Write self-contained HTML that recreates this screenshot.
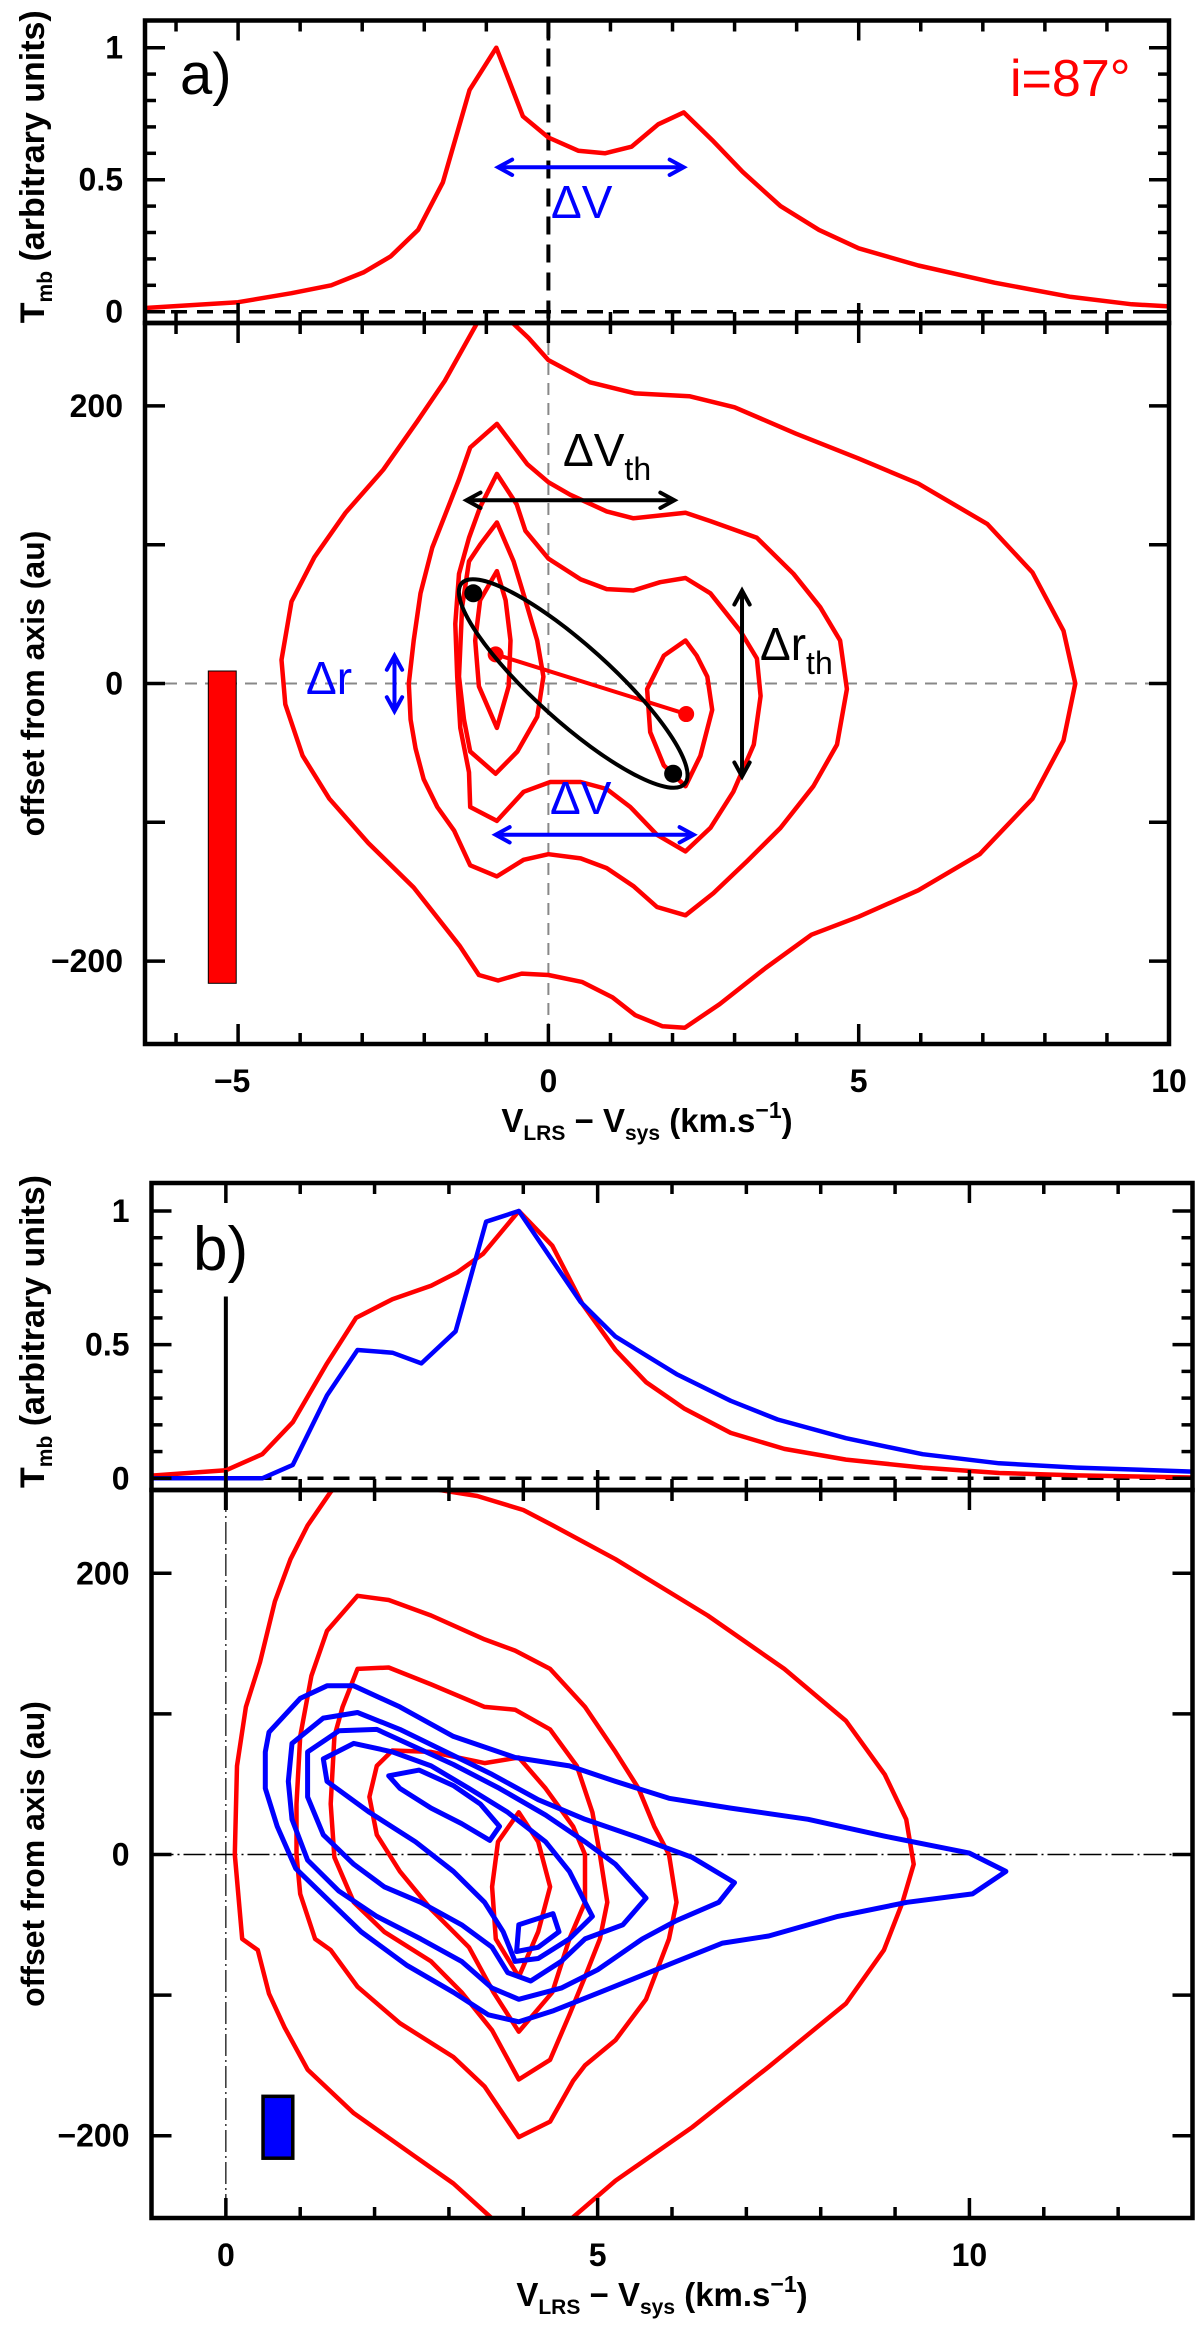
<!DOCTYPE html>
<html><head><meta charset="utf-8">
<style>
html,body{margin:0;padding:0;background:#fff;}
svg{display:block;font-family:"Liberation Sans",sans-serif;}
</style></head>
<body>
<svg id="fig" width="1200" height="2329" viewBox="0 0 1200 2329" xmlns="http://www.w3.org/2000/svg">
<defs>
<clipPath id="clipA"><rect x="145" y="323" width="1024" height="721"/></clipPath>
<clipPath id="clipB"><rect x="151.5" y="1490" width="1041" height="728"/></clipPath>
<clipPath id="clipAs"><rect x="145" y="20" width="1024" height="303"/></clipPath>
<clipPath id="clipBs"><rect x="151.5" y="1183" width="1041" height="307"/></clipPath>
</defs>
<rect x="0" y="0" width="1200" height="2329" fill="#fff"/>
<g id="root"></g>
</svg>
<script>
// ---------- DATA ----------
const specA_v = [-6.5,-5,-4.14,-3.5,-2.97,-2.54,-2.1,-1.7,-1.27,-0.84,-0.41,0,0.48,0.91,1.34,1.77,2.18,2.64,3.13,3.74,4.36,5.0,5.96,7.19,8.42,9.4,10];
const specA_T = [0.014,0.036,0.07,0.10,0.15,0.21,0.31,0.49,0.84,1.0,0.74,0.66,0.61,0.60,0.625,0.71,0.755,0.65,0.53,0.40,0.31,0.24,0.175,0.11,0.056,0.028,0.02];
const pvA1_v = [-1.12,-1.67,-2.11,-2.66,-3.27,-3.77,-4.14,-4.30,-4.24,-3.96,-3.53,-2.90,-2.17,-1.43,-1.12,-0.81,-0.43,0,0.54,1.03,1.40,1.84,2.2,2.76,3.50,4.24,5.0,5.96,6.95,7.8,8.3,8.49,8.3,7.8,7.07,5.96,5,3.99,3.0,2.27,1.4,0.67,0,-0.32,-0.63,-0.9];
const pvA1_r = [262,218,189,154,123,91,59,17,-15,-52,-83,-115,-147,-189,-210,-214,-209,-210,-215,-226,-239,-247,-248,-231,-205,-181,-168,-149,-123,-83,-41,0,38,80,115,144,162,180,199,207,209,217,233,249,262,275];
const pvA2_v = [-0.83,-1.26,-1.44,-1.66,-1.87,-2.06,-2.17,-2.25,-2.22,-2.14,-2.01,-1.79,-1.52,-1.26,-0.83,-0.40,0,0.52,0.94,1.37,1.75,2.21,2.66,3.2,3.74,4.27,4.65,4.81,4.7,4.38,3.95,3.36,2.61,2.21,1.37,0.94,0.35,0,-0.34];
const pvA2_r = [187,170,147,122,98,65,31,0,-26,-47,-69,-89,-106,-131,-139,-127,-123,-126,-133,-146,-161,-167,-151,-128,-104,-74,-44,-4,31,55,79,105,117,123,119,124,136,145,158];
const pvA3_v = [-0.83,-1.10,-1.28,-1.44,-1.50,-1.47,-1.42,-1.28,-1.26,-0.83,-0.40,0.03,0.52,0.94,1.32,1.75,2.21,2.61,2.98,3.31,3.42,3.36,3.09,2.61,2.21,1.80,1.37,0.94,0.52,0,-0.37,-0.51];
const pvA3_r = [151,127,105,79,43,5,-32,-64,-89,-99,-78,-71,-71,-76,-89,-109,-121,-104,-78,-44,-9,18,38,65,76,73,67,68,75,90,110,129];
const pvA4_v = [-0.83,-1.10,-1.28,-1.39,-1.44,-1.36,-1.26,-0.85,-0.50,-0.18,-0.08,-0.18,-0.37,-0.56];
const pvA4_r = [116,100,88,55,5,-26,-49,-65,-49,-24,5,31,60,88];
const pvA5_v = [-0.83,-1.10,-1.18,-1.12,-0.83,-0.64,-0.61,-0.69];
const pvA5_r = [81,60,31,-2,-32,-2,31,60];
const pvA6_v = [2.21,1.86,1.59,1.64,1.86,2.21,2.45,2.64,2.56,2.39];
const pvA6_r = [31,20,-4,-35,-59,-74,-52,-19,5,20];
const specB_v = [-1.0,0,0.49,0.9,1.36,1.75,2.24,2.76,3.11,3.46,3.94,4.39,4.80,5.24,5.65,6.17,6.79,7.51,8.34,9.37,10.4,11.44,13];
const specB_red = [0.01,0.03,0.09,0.21,0.43,0.60,0.67,0.72,0.77,0.84,1.0,0.87,0.65,0.48,0.36,0.26,0.17,0.11,0.07,0.04,0.02,0.011,0.003];
const specB2_v = [-1,0.49,0.9,1.36,1.77,2.24,2.63,3.09,3.5,3.94,4.77,5.24,6.06,6.79,7.42,8.34,9.37,10.4,11.44,13];
const specB_blue = [0,0,0.05,0.31,0.48,0.47,0.43,0.55,0.96,1.0,0.66,0.53,0.39,0.29,0.22,0.15,0.09,0.056,0.04,0.025];
const pvR1_v = [2.0,1.41,1.10,0.87,0.66,0.46,0.27,0.15,0.12,0.22,0.43,0.58,0.79,1.1,1.72,2.55,3.06,3.56,3.8,4.4,4.67,5.24,6.27,7.3,8.34,8.85,9.1,9.25,9.15,8.86,8.34,7.51,6.48,5.24,4.4,4.0,3.38,2.55];
const pvR1_r = [290,258,234,210,180,137,105,63,0,-60,-68,-99,-123,-153,-184,-215,-234,-258,-290,-290,-258,-232,-194,-151,-106,-68,-34,-7,25,57,95,132,170,210,234,245,255,262];
const pvR2_v = [1.77,2.19,2.76,3.48,3.89,4.36,4.83,5.24,5.55,5.76,5.96,6.06,5.96,5.65,5.24,4.83,4.67,4.36,3.94,3.48,3.06,2.34,1.77,1.41,1.2,1.0,0.95,0.95,1.0,1.15,1.36];
const pvR2_r = [184,181,170,153,145,132,105,73,47,20,0,-34,-60,-103,-132,-150,-161,-190,-201,-165,-144,-120,-94,-68,-60,-28,0,36,84,127,159];
const pvR3_v = [1.77,2.19,2.76,3.48,3.89,4.36,4.72,4.93,5.03,5.13,5.03,4.83,4.62,4.36,3.94,3.58,3.17,2.76,2.13,1.72,1.46,1.41,1.46,1.57];
const pvR3_r = [132,133,121,105,103,89,63,30,0,-34,-60,-87,-114,-146,-160,-125,-98,-76,-55,-34,-2,36,84,105];
const pvR4_v = [2.24,2.76,3.48,3.94,4.3,4.67,4.83,4.83,4.62,4.39,3.94,3.6,3.27,2.76,2.34,2.03,1.93,2.03];
const pvR4_r = [74,73,65,69,47,20,0,-34,-60,-98,-126,-98,-66,-39,-12,14,41,63];
const pvR5_v = [3.94,3.66,3.58,3.63,3.94,4.2,4.36,4.2];
const pvR5_r = [30,9,-23,-60,-87,-55,-23,9];
const pvB1_v = [0.58,1.0,1.36,1.72,2.34,3.06,3.89,4.62,5.24,5.96,6.79,7.83,8.86,10.0,10.49,10.04,9.16,8.23,7.3,6.68,6.06,5.55,5.03,4.41,3.94,3.53,3.06,2.44,1.82,1.41,0.94,0.69,0.53,0.53];
const pvB1_r = [87,111,120,120,105,84,69,63,52,40,33,25,13,1,-12,-28,-34,-44,-58,-63,-76,-87,-98,-111,-119,-114,-98,-79,-55,-34,-10,20,47,73];
const pvB2_v = [0.89,1.31,1.77,2.34,2.96,3.58,4.2,4.83,5.55,6.27,6.84,6.63,6.06,5.6,5.0,4.51,3.94,3.58,3.17,2.62,2.03,1.52,1.1,0.89,0.84];
const pvB2_r = [79,97,101,89,73,57,39,25,12,-2,-20,-34,-47,-60,-82,-95,-103,-95,-76,-60,-44,-26,-4,25,52];
const pvB3_v = [1.1,1.52,2.03,2.44,3.06,3.68,4.3,4.83,5.24,5.65,5.34,4.83,4.51,4.1,3.79,3.58,3.17,2.62,2.13,1.72,1.31,1.1];
const pvB3_r = [73,88,89,79,64,47,28,9,-7,-31,-50,-60,-76,-90,-84,-66,-50,-34,-23,-7,14,41];
const pvB4_v = [1.31,1.72,2.24,2.76,3.27,3.79,4.3,4.62,4.83,4.93,4.62,4.2,3.89,3.73,3.48,3.06,2.55,1.93,1.36];
const pvB4_r = [68,79,73,63,47,30,9,-12,-34,-44,-60,-74,-76,-55,-34,-12,9,30,52];
const pvB5_v = [2.19,2.6,3.06,3.42,3.68,3.55,3.17,2.76,2.34];
const pvB5_r = [56,60,49,36,20,10,22,33,47];
const pvB6_v = [3.94,4.4,4.48,4.2,3.91];
const pvB6_r = [-50,-42,-55,-66,-69];
const xTicksA = [-5,0,5,10];
const xTicksB = [0,5,10];
const pvTicks = [200,0,-200];
const specTicks = [0,0.5,1];

// ---------- AXES ----------
const A = {x0:145,x1:1169,vmin:-6.5,vmax:10,sTop:20.5,sBot:323,T0:311.7,Tk:264,pTop:323,pBot:1044,r0:683.5,rk:1.388};
const B = {x0:151.5,x1:1192.5,vmin:-1,vmax:13,sTop:1183,sBot:1490,T0:1478.3,Tk:267.3,pTop:1490,pBot:2218,r0:1854.5,rk:1.406};
function X(P,v){return P.x0+(v-P.vmin)/(P.vmax-P.vmin)*(P.x1-P.x0);}
function YT(P,t){return P.T0-P.Tk*t;}
function YR(P,r){return P.r0-P.rk*r;}

const NS='http://www.w3.org/2000/svg';
const root=document.getElementById('root');
function el(tag,attrs,parent){const e=document.createElementNS(NS,tag);for(const k in attrs)e.setAttribute(k,attrs[k]);(parent||root).appendChild(e);return e;}

function spectrumLine(P,vs,ts,color,name,clip){
  const g=el('g',{'clip-path':'url(#'+clip+')'});
  const pts=vs.map((v,i)=>X(P,v).toFixed(1)+','+YT(P,ts[i]).toFixed(1)).join(' ');
  const p=el('polyline',{points:pts,fill:'none',stroke:color,'stroke-width':4.5,'stroke-linejoin':'round'},g);
  
  
}
function contour(P,vs,rs,color,name,clip,w){
  const g=el('g',{'clip-path':'url(#'+clip+')'});
  const pts=vs.map((v,i)=>X(P,v).toFixed(1)+','+YR(P,rs[i]).toFixed(1)).join(' ');
  const p=el('polygon',{points:pts,fill:'none',stroke:color,'stroke-width':w||4.5,'stroke-linejoin':'round'},g);
  
  
}
function frame(P,xt,label){
  const g=el('g',{});
  
  
  for(let v=Math.ceil(P.vmin);v<=P.vmax;v++){
    const x=X(P,v), L=(v%5===0)?20:11;
    [[P.sTop,1],[P.sBot,-1],[P.pTop,1],[P.pBot,-1]].forEach(([y,d])=>{
      el('line',{x1:x,x2:x,y1:y,y2:y+d*L,stroke:'#000','stroke-width':3.5},g);
    });
  }
  for(let t=0;t<=1.0001;t+=0.1){
    const y=YT(P,t), L=(Math.abs(t*2-Math.round(t*2))<1e-6)?20:11;
    el('line',{x1:P.x0,x2:P.x0+L,y1:y,y2:y,stroke:'#000','stroke-width':3.5},g);
    el('line',{x1:P.x1,x2:P.x1-L,y1:y,y2:y,stroke:'#000','stroke-width':3.5},g);
  }
  for(let r=-200;r<=200;r+=100){
    const y=YR(P,r);
    el('line',{x1:P.x0,x2:P.x0+20,y1:y,y2:y,stroke:'#000','stroke-width':3.5},g);
    el('line',{x1:P.x1,x2:P.x1-20,y1:y,y2:y,stroke:'#000','stroke-width':3.5},g);
  }
  el('rect',{x:P.x0,y:P.sTop,width:P.x1-P.x0,height:P.sBot-P.sTop,fill:'none',stroke:'#000','stroke-width':4.5},g);
  el('rect',{x:P.x0,y:P.pTop,width:P.x1-P.x0,height:P.pBot-P.pTop,fill:'none',stroke:'#000','stroke-width':4.5},g);
  xt.forEach(v=>{
    const t=el('text',{x:X(P,v)-(v<0?6:0),y:P.pBot+48,'font-size':32,'font-weight':'bold','text-anchor':'middle'},g);
    t.textContent=(v<0?'\u2212':'')+Math.abs(v);
  });
  specTicks.forEach(t=>{
    const e=el('text',{x:P.x0-22,y:YT(P,t)+11,'font-size':32,'font-weight':'bold','text-anchor':'end'},g);
    e.textContent=String(t);
  });
  pvTicks.forEach(r=>{
    const e=el('text',{x:P.x0-22,y:YR(P,r)+11,'font-size':32,'font-weight':'bold','text-anchor':'end'},g);
    e.textContent=(r<0?'\u2212':'')+Math.abs(r);
  });
  const tt=el('text',{x:(P.x0+P.x1)/2-10,y:P.pBot+88,'font-size':33,'font-weight':'bold','text-anchor':'middle'},g);
  
  
  tt.innerHTML='V<tspan font-size="21" dy="8">LRS</tspan><tspan dy="-8"> \u2212 V</tspan><tspan font-size="21" dy="8">sys</tspan><tspan dy="-8"> (km.s</tspan><tspan font-size="23" dy="-14">\u22121</tspan><tspan dy="14">)</tspan>';
  const yt=el('text',{transform:'translate(44,'+((P.pTop+P.pBot)/2)+') rotate(-90)','font-size':32,'font-weight':'bold','text-anchor':'middle'},g);
  
  
  yt.textContent='offset from axis (au)';
  const st=el('text',{transform:'translate(44,'+(P.sTop-10+(P.sBot-P.sTop)/2+5)+') rotate(-90)','font-size':34,'font-weight':'bold','text-anchor':'middle'},g);
  
  
  st.innerHTML='T<tspan font-size="21" dy="8">mb</tspan><tspan dy="-8">  (arbitrary units)</tspan>';
}
function arrow(x1,y1,x2,y2,color,w,name){
  const g=el('g',{});
  
  
  el('line',{x1,y1,x2,y2,stroke:color,'stroke-width':w},g);
  const a=Math.atan2(y2-y1,x2-x1),h=16,s=0.5;
  [[x1,y1,a+Math.PI],[x2,y2,a]].forEach(([x,y,an])=>{
    el('polyline',{points:(x-h*Math.cos(an-s))+','+(y-h*Math.sin(an-s))+' '+x+','+y+' '+(x-h*Math.cos(an+s))+','+(y-h*Math.sin(an+s)),fill:'none',stroke:color,'stroke-width':w,'stroke-linecap':'round'},g);
  });
}

// ---------- PANEL A ----------
el('line',{x1:A.x0,x2:A.x1,y1:YT(A,0),y2:YT(A,0),stroke:'#000','stroke-width':3.5,'stroke-dasharray':'16,10'});
el('line',{x1:X(A,0),x2:X(A,0),y1:A.sTop,y2:A.sBot,stroke:'#000','stroke-width':4,'stroke-dasharray':'18,10'});
el('line',{x1:A.x0,x2:A.x1,y1:YR(A,0),y2:YR(A,0),stroke:'#888','stroke-width':2,'stroke-dasharray':'12,8'});
el('line',{x1:X(A,0),x2:X(A,0),y1:A.pTop,y2:A.pBot,stroke:'#888','stroke-width':2,'stroke-dasharray':'12,8'});
spectrumLine(A,specA_v,specA_T,'#ff0000','spectrum-a','clipAs');
contour(A,pvA1_v,pvA1_r,'#ff0000','contour-a-1','clipA');
contour(A,pvA2_v,pvA2_r,'#ff0000','contour-a-2','clipA');
contour(A,pvA3_v,pvA3_r,'#ff0000','contour-a-3','clipA');
contour(A,pvA4_v,pvA4_r,'#ff0000','contour-a-4','clipA');
contour(A,pvA5_v,pvA5_r,'#ff0000','contour-a-5','clipA');
contour(A,pvA6_v,pvA6_r,'#ff0000','contour-a-6','clipA');
frame(A,xTicksA,'a');
const bmA=el('rect',{x:X(A,-5.48),y:YR(A,9),width:X(A,-5.03)-X(A,-5.48),height:YR(A,-216)-YR(A,9),fill:'#ff0000',stroke:'#000','stroke-width':1});


el('line',{x1:X(A,-0.85),y1:YR(A,21),x2:X(A,2.22),y2:YR(A,-22),stroke:'#ff0000','stroke-width':4});
el('circle',{cx:X(A,-0.85),cy:YR(A,21),r:8,fill:'#ff0000'});
el('circle',{cx:X(A,2.22),cy:YR(A,-22),r:8,fill:'#ff0000'});
const cx=X(A,0.40),cy=YR(A,0);
const ell=el('ellipse',{cx,cy,rx:150,ry:38,transform:'rotate(42 '+cx+' '+cy+')',fill:'none',stroke:'#000','stroke-width':4});


el('circle',{cx:X(A,-1.21),cy:YR(A,65),r:9,fill:'#000'});
el('circle',{cx:X(A,2.01),cy:YR(A,-65),r:9,fill:'#000'});
arrow(X(A,-0.81),YT(A,0.547),X(A,2.18),YT(A,0.547),'#0000ff',4,'delta-v-arrow-top');
arrow(X(A,-1.32),YR(A,132),X(A,2.03),YR(A,132),'#000',4,'delta-vth-arrow');
arrow(X(A,3.12),YR(A,67),X(A,3.12),YR(A,-67),'#000',4,'delta-rth-arrow');
arrow(X(A,-0.85),YR(A,-109),X(A,2.34),YR(A,-109),'#0000ff',4,'delta-v-arrow-pv');
arrow(X(A,-2.48),YR(A,20),X(A,-2.48),YR(A,-20),'#0000ff',4,'delta-r-arrow');
function label(x,y,html,size,color,name){const t=el('text',{x,y,'font-size':size,fill:color});t.innerHTML=html;return t;}
label(551,218,'\u0394V',46,'#0000ff','delta-v-label-top');
label(563,466,'\u0394V<tspan font-size="32" dy="14">th</tspan>',46,'#000','delta-vth-label');
label(760,660,'\u0394r<tspan font-size="32" dy="14">th</tspan>',46,'#000','delta-rth-label');
label(550,814,'\u0394V',46,'#0000ff','delta-v-label-pv');
label(306,694,'\u0394r',46,'#0000ff','delta-r-label');
label(180,94,'a)',58,'#000','panel-a-label');
label(1010,96,'i=87\u00b0',52,'#ff0000','inclination-label');

// ---------- PANEL B ----------
el('line',{x1:B.x0,x2:B.x1,y1:YT(B,0),y2:YT(B,0),stroke:'#000','stroke-width':3.5,'stroke-dasharray':'16,10'});
el('line',{x1:X(B,0),x2:X(B,0),y1:YT(B,0.68),y2:B.sBot+20,stroke:'#000','stroke-width':4});
el('line',{x1:B.x0,x2:B.x1,y1:YR(B,0),y2:YR(B,0),stroke:'#000','stroke-width':1.5,'stroke-dasharray':'22,4,2,4'});
el('line',{x1:X(B,0),x2:X(B,0),y1:B.pTop,y2:B.pBot,stroke:'#000','stroke-width':1.2,'stroke-dasharray':'22,4,2,4'});
spectrumLine(B,specB_v,specB_red,'#ff0000','spectrum-b-red','clipBs');
spectrumLine(B,specB2_v,specB_blue,'#0000ff','spectrum-b-blue','clipBs');
contour(B,pvR1_v,pvR1_r,'#ff0000','contour-b-red-1','clipB');
contour(B,pvR2_v,pvR2_r,'#ff0000','contour-b-red-2','clipB');
contour(B,pvR3_v,pvR3_r,'#ff0000','contour-b-red-3','clipB');
contour(B,pvR4_v,pvR4_r,'#ff0000','contour-b-red-4','clipB');
contour(B,pvR5_v,pvR5_r,'#ff0000','contour-b-red-5','clipB');
contour(B,pvB1_v,pvB1_r,'#0000ff','contour-b-blue-1','clipB',5);
contour(B,pvB2_v,pvB2_r,'#0000ff','contour-b-blue-2','clipB',5);
contour(B,pvB3_v,pvB3_r,'#0000ff','contour-b-blue-3','clipB',5);
contour(B,pvB4_v,pvB4_r,'#0000ff','contour-b-blue-4','clipB',5);
contour(B,pvB5_v,pvB5_r,'#0000ff','contour-b-blue-5','clipB',5);
contour(B,pvB6_v,pvB6_r,'#0000ff','contour-b-blue-6','clipB',5);
frame(B,xTicksB,'b');
const bmB=el('rect',{x:X(B,0.5),y:YR(B,-172),width:X(B,0.9)-X(B,0.5),height:YR(B,-216)-YR(B,-172),fill:'#0000ff',stroke:'#000','stroke-width':3.5});


label(193,1270,'b)',62,'#000','panel-b-label');
</script>
</body></html>
